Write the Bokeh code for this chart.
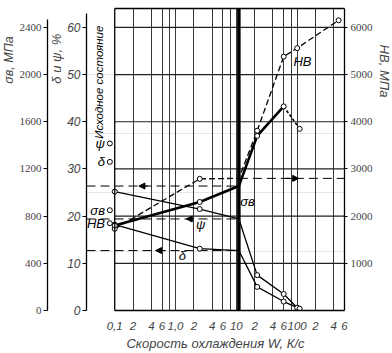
import numpy as np
from bokeh.plotting import figure
from bokeh.models import (Range1d, LinearAxis, LogAxis, FixedTicker, Grid, Span,
                          Arrow, NormalHead, Title)
from bokeh.core.properties import value
from bokeh.embed import file_html
from bokeh.resources import INLINE

# ---------------- data ----------------
W_sigma = [0.1, 2.5, 11, 22, 60]
sigma_b = [720, 920, 1055, 1480, 1730]
W_sigma_tail = [60, 110]
sigma_b_tail = [1730, 1540]

W_hb = [0.1, 2.5, 11, 22, 60, 100, 480]
hb = [1730, 2790, 2800, 3810, 5380, 5560, 6150]

W_psi = [0.1, 2.5, 11, 22, 60, 100]
psi = [25.2, 21.5, 19.4, 7.5, 3.5, 0.6]

W_delta = [0.1, 2.5, 11, 22, 60, 110]
delta = [18.2, 13.1, 12.7, 5.0, 1.9, 0.4]

W_crit = 11

init_names = ["ψ", "δ", "σв", "HB"]
init_psi, init_delta, init_sigma, init_hb = 35.4, 31.5, 850, 1850

x_ticks = [0.1, 0.2, 0.4, 0.6, 1, 2, 4, 6, 10, 20, 40, 60, 100, 200, 400, 600]
x_tick_labels = ["0,1", "2", "4", "6", "1,0", "2", "4", "6", "10", "2", "4", "6",
                 "100", "2", "4", "6"]
x_grid = [0.2, 0.4, 0.6, 0.8, 1, 2, 4, 6, 8, 10, 20, 40, 60, 80, 100, 200, 400]
sigma_ticks = [0, 400, 800, 1200, 1600, 2000, 2400]
dpsi_ticks = [0, 10, 20, 30, 40, 50, 60]
hb_ticks = [1000, 2000, 3000, 4000, 5000, 6000]

# ---------------- layout constants ----------------
X_MIN, X_MAX = 0.1, 600
DEC = 62.5                       # px per decade
X0 = X_MIN / 10 ** (29 / DEC)     # room on the left for the initial state column
X_INIT = X_MIN / 10 ** (5 / DEC)
X_INIT_LBL = X_MIN / 10 ** (10 / DEC)
X_INIT_TXT = X_MIN / 10 ** (16 / DEC)
NB = "\u00a0"                     # non-breaking space used to pad side titles

ITAL = value("Liberation Sans")
SERIF = "Liberation Serif"

p = figure(width=392, height=353, x_axis_type="log",
           x_range=Range1d(X0, X_MAX), y_range=Range1d(0, 2560),
           y_axis_location=None, output_backend="svg", toolbar_location=None,
           min_border_left=82, min_border_right=45, min_border_top=8,
           min_border_bottom=37)
p.extra_y_ranges = {"dpsi": Range1d(0, 64), "hb": Range1d(0, 6400)}
p.outline_line_color = None
p.xgrid.visible = False
p.background_fill_color = "white"
p.border_fill_color = "white"

# grid
vg = Grid(dimension=0, ticker=FixedTicker(ticks=x_grid),
          grid_line_color="#3a3a3a", grid_line_width=1)
p.add_layout(vg)
hy = sigma_ticks[1:]
p.segment(x0=[X_MIN] * len(hy), x1=[X_MAX] * len(hy), y0=hy, y1=hy,
          line_color="#222222", line_width=1.2)
p.add_layout(Span(location=X_MIN, dimension="height", line_color="black", line_width=1.3))
p.add_layout(Span(location=W_crit, dimension="height", line_color="black", line_width=3.5))

# bottom axis
xa = p.xaxis[0]
xa.ticker = FixedTicker(ticks=x_ticks)
xa.major_label_overrides = {t: l for t, l in zip(x_ticks, x_tick_labels)}
xa.bounds = (X_MIN, X_MAX)
xa.major_tick_line_color = None
xa.minor_tick_line_color = None
xa.axis_line_width = 1.3
xa.major_label_standoff = 5
xa.major_label_text_font = "Liberation Sans"
xa.major_label_text_font_style = "italic"
xa.major_label_text_font_size = "11.5px"
xa.axis_label = "Скорость охлаждения W, К/с"
xa.axis_label_text_font = "Liberation Sans"
xa.axis_label_text_font_style = "italic"
xa.axis_label_text_font_size = "13px"
xa.axis_label_standoff = 3

# top border
ta = LogAxis(ticker=FixedTicker(ticks=[]), bounds=(X_MIN, X_MAX),
             major_tick_line_color=None, minor_tick_line_color=None,
             axis_line_width=1.3, major_label_text_font_size="0px")
p.add_layout(ta, "above")


def style_axis(ax, font, italic, size):
    ax.major_tick_in = 0
    ax.major_tick_out = 4
    ax.minor_tick_line_color = None
    ax.axis_line_width = 1.3
    ax.major_label_text_font = font
    ax.major_label_text_font_style = "italic" if italic else "normal"
    ax.major_label_text_font_size = size
    ax.major_label_standoff = 2


def side_title(text, align, size="13px"):
    return Title(text=text, align=align, standoff=0,
                 text_font="Liberation Sans", text_font_style="italic",
                 text_font_size=size, vertical_align="middle")


ax_dpsi = LinearAxis(y_range_name="dpsi", ticker=FixedTicker(ticks=dpsi_ticks),
                     bounds=(0, 63))
style_axis(ax_dpsi, "Liberation Sans", True, "12px")
p.add_layout(ax_dpsi, "left")
p.add_layout(side_title("δ и ψ, %" + NB * 7, "right"), "left")

ax_sig = LinearAxis(ticker=FixedTicker(ticks=sigma_ticks), bounds=(0, 2470))
style_axis(ax_sig, SERIF, False, "11px")
p.add_layout(ax_sig, "left")
p.add_layout(side_title("σв, МПа" + NB * 8, "right", "12.5px"), "left")

ax_hb = LinearAxis(y_range_name="hb", ticker=FixedTicker(ticks=hb_ticks))
style_axis(ax_hb, SERIF, False, "11px")
ax_hb.major_tick_out = 3
ax_hb.major_label_standoff = 3
p.add_layout(ax_hb, "right")
p.add_layout(side_title(NB * 10 + "HB, МПа", "left"), "right")

# ---------------- curves ----------------
def mk(xs, ys):
    return [x for x in xs if x != W_crit], [y for x, y in zip(xs, ys) if x != W_crit]

# reading lines at the critical speed
i_s = W_sigma.index(W_crit)
i_h = W_hb.index(W_crit)
i_p = W_psi.index(W_crit)
i_d = W_delta.index(W_crit)
p.line([X0, W_crit], [sigma_b[i_s]] * 2, line_color="black", line_width=1, line_dash="9 5")
p.line([X0, W_crit], [psi[i_p]] * 2, y_range_name="dpsi", line_color="black", line_width=1, line_dash="9 5")
p.line([X0, W_crit], [delta[i_d]] * 2, y_range_name="dpsi", line_color="black", line_width=1, line_dash="9 5")
p.line([W_crit, X_MAX], [hb[i_h]] * 2, y_range_name="hb", line_color="black", line_width=1, line_dash="9 5")

head = dict(size=6, fill_color="black", line_color="black")
p.add_layout(Arrow(end=NormalHead(**head), x_start=0.35, x_end=0.25,
                   y_start=sigma_b[i_s], y_end=sigma_b[i_s], line_width=1))
p.add_layout(Arrow(end=NormalHead(**head), x_start=1.95, x_end=1.5,
                   y_start=psi[i_p], y_end=psi[i_p], y_range_name="dpsi", line_width=1))
p.add_layout(Arrow(end=NormalHead(**head), x_start=0.68, x_end=0.47,
                   y_start=delta[i_d], y_end=delta[i_d], y_range_name="dpsi", line_width=1))
p.add_layout(Arrow(end=NormalHead(**head), x_start=65, x_end=106,
                   y_start=hb[i_h], y_end=hb[i_h], y_range_name="hb", line_width=1))

# HB (dashed)
p.line(W_hb, hb, y_range_name="hb", line_color="black", line_width=1.3, line_dash="6 3")
# psi, delta (thin solid)
p.line(W_psi, psi, y_range_name="dpsi", line_color="black", line_width=1.3)
p.line(W_delta, delta, y_range_name="dpsi", line_color="black", line_width=1.3)
# sigma_b (thick) + dotted tail
p.line(W_sigma, sigma_b, line_color="black", line_width=2.6)
p.line(W_sigma_tail, sigma_b_tail, line_color="black", line_width=1.6, line_dash="3 2")

mstyle = dict(marker="circle", size=5, fill_color="white", line_color="black", line_width=1)
x, y = mk(W_hb, hb); p.scatter(x, y, y_range_name="hb", **mstyle)
x, y = mk(W_psi, psi); p.scatter(x, y, y_range_name="dpsi", **mstyle)
x, y = mk(W_delta, delta); p.scatter(x, y, y_range_name="dpsi", **mstyle)
x, y = mk(W_sigma, sigma_b); p.scatter(x, y, **mstyle)
p.scatter(W_sigma_tail[1:], sigma_b_tail[1:], **mstyle)

# initial state column
p.scatter([X_INIT] * 2, [init_psi, init_delta], y_range_name="dpsi", **mstyle)
p.scatter([X_INIT], [init_sigma], **mstyle)
p.scatter([X_INIT], [init_hb], y_range_name="hb", **mstyle)
tstyle = dict(text_font=ITAL, text_font_style="italic", text_font_size="13px",
              text_color="black", text_baseline="middle")
p.text([X_INIT_LBL] * 2, [init_psi, init_delta], text=init_names[:2], y_range_name="dpsi",
       text_align="right", **tstyle)
p.text([X_INIT_LBL], [init_sigma], text=[init_names[2]], text_align="right", **tstyle)
p.text([X_INIT_LBL], [init_hb], text=[init_names[3]], y_range_name="hb",
       text_align="right", **tstyle)
p.text([X_INIT_TXT], [1935], text=["Исходное состояние"], angle=np.pi / 2,
       text_align="center", text_font=ITAL, text_font_style="italic",
       text_font_size="11.5px", text_baseline="middle")

# in-plot curve labels
p.text([122], [2110], text=["HB"], text_align="center", **tstyle)
p.text([11.6], [925], text=["σв"], text_align="left", **tstyle)
p.text([2.6], [730], text=["ψ"], text_align="center", **tstyle)
p.text([1.3], [470], text=["δ"], text_align="center", **tstyle)

open("out.html", "w").write(file_html(p, INLINE))
